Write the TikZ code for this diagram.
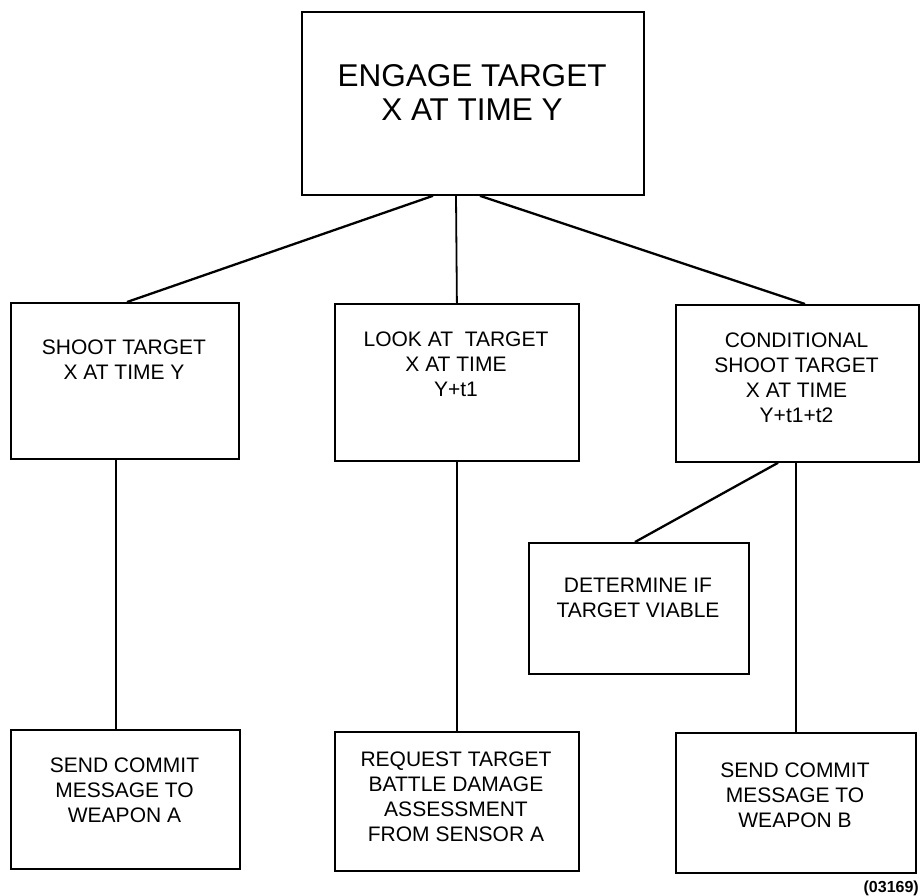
\documentclass[tikz,border=0pt]{standalone}
\usepackage{fontspec}
\setmainfont{Liberation Sans}
\usetikzlibrary{calc}
\begin{document}
\begin{tikzpicture}[x=1pt,y=-1pt,
  box/.style={draw=black, line width=1.8pt, inner sep=0pt, anchor=north west},
  txt/.style={anchor=north, inner sep=0pt, align=center, font=\fontsize{21}{25}\selectfont},
  bigtxt/.style={anchor=north, inner sep=0pt, align=center, font=\fontsize{31.5}{34}\selectfont},
  diag/.style={line width=2.3pt},
  vert/.style={line width=1.8pt}]
\useasboundingbox (0,0) rectangle (920,895);

% boxes
\node[box, minimum width=342pt, minimum height=183pt] (top) at (301,11) {};
\node[box, minimum width=228pt, minimum height=156pt] (s1) at (10,302) {};
\node[box, minimum width=244pt, minimum height=157pt] (s2) at (334,303) {};
\node[box, minimum width=243pt, minimum height=157pt] (s3) at (675,304) {};
\node[box, minimum width=220pt, minimum height=131pt] (det) at (528,542) {};
\node[box, minimum width=229pt, minimum height=139pt] (b1) at (10,729) {};
\node[box, minimum width=244pt, minimum height=139pt] (b2) at (334,731) {};
\node[box, minimum width=240pt, minimum height=140pt] (b3) at (675,732) {};

% box texts
\node[bigtxt] (top-t) at (472,64.5) {ENGAGE TARGET\\X AT TIME Y};
\node[txt] (s1-t) at (124,340) {SHOOT TARGET\\X AT TIME Y};
\node[txt] (s2-t) at (456,332) {LOOK AT~ TARGET\\X AT TIME\\Y+t1};
\node[txt] (s3-t) at (796.5,333) {CONDITIONAL\\SHOOT TARGET\\X AT TIME\\Y+t1+t2};
\node[txt] (det-t) at (638,578) {DETERMINE IF\\TARGET VIABLE};
\node[txt] (b1-t) at (124.5,758) {SEND COMMIT\\MESSAGE TO\\WEAPON A};
\node[txt] (b2-t) at (456,752) {REQUEST TARGET\\BATTLE DAMAGE\\ASSESSMENT\\FROM SENSOR A};
\node[txt] (b3-t) at (795,763) {SEND COMMIT\\MESSAGE TO\\WEAPON B};

% figure number
\node[anchor=base east, inner sep=0pt, font=\bfseries\fontsize{16}{16}\selectfont] (code) at (919,892) {(03169)};

% connectors
\draw[diag] ($(top.south west)+(132,0)$) -- ($(s1.north west)+(117,0)$);
\draw[vert] ($(top.south west)+(155,0)$) -- (s2.north);
\draw[diag] ($(top.south west)+(179,0)$) -- ($(s3.north west)+(130,0)$);
\draw[vert] ($(s1.south west)+(106,0)$) -- ($(b1.north west)+(106,0)$);
\draw[vert] (s2.south) -- (s2.south |- b2.north);
\draw[diag] ($(s3.south west)+(103,0)$) -- ($(det.north west)+(107,0)$);
\draw[vert] ($(s3.south west)+(121,0)$) -- ($(b3.north west)+(121,0)$);
\end{tikzpicture}
\end{document}
